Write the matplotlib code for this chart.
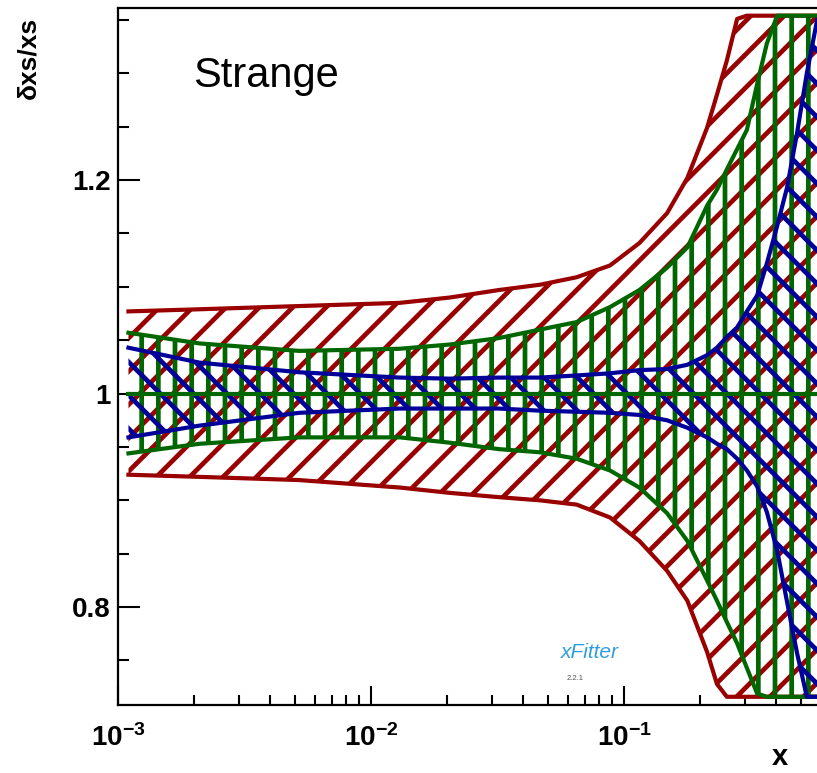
import numpy as np
import matplotlib
matplotlib.use("Agg")
import matplotlib.pyplot as plt
from matplotlib.ticker import MultipleLocator, FixedLocator, FuncFormatter, NullFormatter

plt.rcParams['font.family'] = ['Liberation Sans', 'DejaVu Sans']
plt.rcParams['mathtext.fontset'] = 'custom'
plt.rcParams['mathtext.rm'] = 'Liberation Sans'
plt.rcParams['mathtext.bf'] = 'Liberation Sans:bold'
plt.rcParams['hatch.linewidth'] = 3.4

# x values and band edges
x = [0.0011, 0.0021, 0.0052, 0.013, 0.0205, 0.032, 0.0466, 0.065, 0.088,
     0.115, 0.148, 0.178, 0.213, 0.233, 0.255, 0.280, 0.306, 0.336, 0.367,
     0.403, 0.441, 0.483, 0.528, 0.58]

red_hi = [1.077, 1.079, 1.082, 1.085, 1.090, 1.097, 1.102, 1.109, 1.120,
          1.141, 1.169, 1.202, 1.249, 1.280, 1.312, 1.351, 1.36, 1.36, 1.36,
          1.36, 1.36, 1.36, 1.36, 1.36]
red_lo = [0.924, 0.922, 0.919, 0.912, 0.907, 0.903, 0.900, 0.896, 0.884,
          0.862, 0.834, 0.806, 0.758, 0.728, 0.71, 0.71, 0.71, 0.71, 0.71,
          0.71, 0.71, 0.71, 0.71, 0.71]

green_hi = [1.057, 1.047, 1.040, 1.042, 1.046, 1.052, 1.060, 1.067, 1.081,
            1.097, 1.118, 1.137, 1.176, 1.191, 1.210, 1.229, 1.247, 1.290,
            1.328, 1.36, 1.36, 1.36, 1.36, 1.36]
green_lo = [0.944, 0.953, 0.959, 0.959, 0.954, 0.948, 0.945, 0.939, 0.928,
            0.912, 0.888, 0.862, 0.825, 0.806, 0.786, 0.766, 0.743, 0.719,
            0.71, 0.71, 0.71, 0.71, 0.71, 0.71]

blue_hi = [1.043, 1.029, 1.020, 1.015, 1.014, 1.015, 1.015, 1.017, 1.019,
           1.022, 1.023, 1.027, 1.036, 1.043, 1.053, 1.062, 1.077, 1.092,
           1.122, 1.157, 1.193, 1.244, 1.300, 1.350]
blue_lo = [0.959, 0.970, 0.982, 0.986, 0.986, 0.986, 0.984, 0.983, 0.982,
           0.980, 0.975, 0.968, 0.959, 0.953, 0.948, 0.939, 0.928, 0.913,
           0.889, 0.853, 0.805, 0.757, 0.71, 0.71]

central = [1.0] * len(x)

red = '#990000'
green = '#006600'
blue = '#000099'

W, H = 817, 773
fig = plt.figure(figsize=(W / 100, H / 100), dpi=100)
ax = fig.add_axes([118 / W, 1 - 705 / H, (W - 118) / W, 697 / H])

ax.set_xscale('log')
ax.set_xlim(1e-3, 10 ** (-3 + 699 / 253))
ax.set_ylim(0.7083, 1.3612)

# ROOT clips the bands just inside the frame
clip_lo, clip_hi = 0.716, 1.354
bands = [(red_lo, red_hi, red, '/'),
         (green_lo, green_hi, green, '|'),
         (blue_lo, blue_hi, blue, '\\')]
for lo, hi, col, hatch in bands:
    lo = np.clip(lo, clip_lo, clip_hi)
    hi = np.clip(hi, clip_lo, clip_hi)
    poly = ax.fill_between(x, lo, hi, facecolor='none', edgecolor=col,
                           hatch=hatch, linewidth=0)
    if hasattr(poly, 'set_hatch_linewidth'):
        poly.set_hatch_linewidth(3.4)
    ax.plot(x, lo, color=col, lw=3.0, solid_joinstyle='round')
    ax.plot(x, hi, color=col, lw=3.0, solid_joinstyle='round')

ax.plot(x, central, color=green, lw=3.0)

# axes styling, ROOT-like
for side in ['left', 'bottom', 'top']:
    ax.spines[side].set_linewidth(1.6)
ax.spines['right'].set_visible(False)

ax.yaxis.set_major_locator(FixedLocator([0.8, 1.0, 1.2]))
ax.yaxis.set_minor_locator(MultipleLocator(0.05))
ax.yaxis.set_major_formatter(FuncFormatter(lambda v, p: '%g' % round(v, 2)))
ax.tick_params(axis='y', which='major', direction='in', length=16, width=1.5,
               labelsize=20, pad=5, right=False)
ax.tick_params(axis='y', which='minor', direction='in', length=8, width=1.5, right=False)
ax.tick_params(axis='x', which='major', direction='in', length=14, width=1.5,
               labelsize=20, pad=14, top=False)
ax.tick_params(axis='x', which='minor', direction='in', length=7, width=1.5, top=False)
ax.xaxis.set_major_formatter(FuncFormatter(
    lambda v, p: r'$\mathbf{10^{%d}}$' % int(round(np.log10(v)))))
ax.xaxis.set_minor_formatter(NullFormatter())
for lab in ax.get_yticklabels():
    lab.set_fontweight('bold')

fig.text(193 / W, 1 - 76 / H, 'Strange', fontsize=30, va='center', ha='left')
fig.text(28 / W, 1 - 58 / H, 'δxs/xs', fontsize=19, fontweight='bold',
         rotation=90, ha='center', va='center')
fig.text(780 / W, 1 - 771 / H, 'x', fontsize=21, fontweight='bold',
         ha='center', va='bottom')

# xFitter logo text
fig.text(590 / W, 1 - 652 / H, 'xFitter', fontsize=15, style='italic',
         color='#2f9ee0', ha='center', va='center')
fig.text(575 / W, 1 - 678 / H, '2.2.1', fontsize=5.5, color='#555555',
         ha='center', va='center')

fig.savefig('out.png', dpi=100)
